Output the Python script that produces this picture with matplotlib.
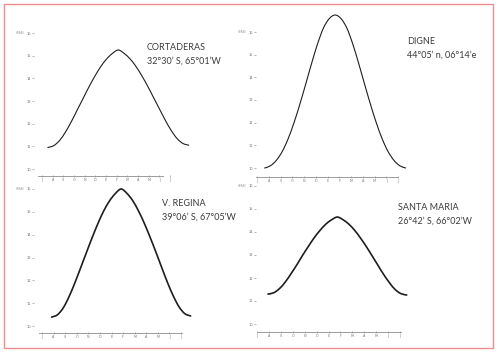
import matplotlib
matplotlib.use("Agg")
import matplotlib.pyplot as plt
from matplotlib.patches import Rectangle, PathPatch
from matplotlib.path import Path

# datos (x en meses, y en horas de luz)
x_cortaderas = [0.55, 1.10, 1.65, 2.20, 2.75, 3.30, 3.85, 4.40, 4.95, 5.50, 6.05, 6.60, 7.15,
                7.70, 8.25, 8.80, 9.35, 9.90, 10.45, 11.00, 11.55, 12.10, 12.65, 13.20, 13.75]
y_cortaderas = [10.95, 11.03, 11.26, 11.63, 12.09, 12.60, 13.11, 13.62, 14.09, 14.51, 14.85, 15.10, 15.25,
                15.10, 14.86, 14.53, 14.12, 13.66, 13.16, 12.66, 12.16, 11.71, 11.35, 11.13, 11.05]

x_digne = [0.65, 1.15, 1.65, 2.15, 2.65, 3.15, 3.65, 4.15, 4.65, 5.15, 5.65, 6.15, 6.65,
           7.15, 7.65, 8.15, 8.65, 9.15, 9.65, 10.15, 10.65, 11.15, 11.65, 12.15, 12.65]
y_digne = [10.00, 10.10, 10.34, 10.73, 11.29, 12.00, 12.82, 13.71, 14.62, 15.47, 16.17, 16.59, 16.75,
           16.59, 16.17, 15.47, 14.62, 13.71, 12.82, 12.00, 11.29, 10.73, 10.34, 10.10, 10.00]

x_regina = [0.83, 1.33, 1.83, 2.33, 2.83, 3.33, 3.83, 4.33, 4.83, 5.33, 5.83, 6.33, 6.83,
            7.33, 7.83, 8.33, 8.83, 9.33, 9.83, 10.33, 10.83, 11.33, 11.83, 12.33, 12.83]
y_regina = [10.39, 10.49, 10.79, 11.28, 11.88, 12.54, 13.21, 13.87, 14.49, 15.04, 15.48, 15.80, 16.00,
            15.81, 15.49, 15.04, 14.50, 13.89, 13.24, 12.57, 11.91, 11.32, 10.84, 10.54, 10.44]

x_santamaria = [0.92, 1.41, 1.89, 2.38, 2.86, 3.35, 3.83, 4.32, 4.80, 5.29, 5.77, 6.26, 6.74,
                7.23, 7.71, 8.20, 8.68, 9.17, 9.65, 10.14, 10.62, 11.11, 11.59, 12.08, 12.56]
y_santamaria = [11.30, 11.36, 11.54, 11.83, 12.19, 12.58, 12.99, 13.38, 13.75, 14.07, 14.34, 14.53, 14.65,
                14.53, 14.34, 14.07, 13.74, 13.37, 12.97, 12.56, 12.16, 11.80, 11.50, 11.32, 11.26]

y_ticks = [10, 11, 12, 13, 14, 15, 16]
x_ticks = list(range(13))
x_labels = ["J", "A", "S", "O", "N", "D", "E", "F", "M", "A", "M", "J", "J"]

titles = ["CORTADERAS", "DIGNE", "V. REGINA", "SANTA MARIA"]
coords = ["32°30’ S, 65°01’W", "44°05’ n, 06°14’e", "39°06’ S, 67°05’W", "26°42’ S, 66°02’W"]

W, H = 500, 354
fig = plt.figure(figsize=(W / 100, H / 100), dpi=100)
fig.patch.set_facecolor("white")

# borde rosado
fig.patches.append(Rectangle((4 / W, 1 - 348 / H), 489 / W, 344 / H, transform=fig.transFigure,
                             fill=False, edgecolor="#f28b8b", linewidth=1.0))


def smooth_path(xs, ys):
    # curva suave (bezier) que pasa por los puntos
    pts = list(zip(xs, ys))
    n = len(pts)
    verts = [pts[0]]
    codes = [Path.MOVETO]
    for i in range(n - 1):
        p0 = pts[max(i - 1, 0)]
        p1 = pts[i]
        p2 = pts[i + 1]
        p3 = pts[min(i + 2, n - 1)]
        c1 = (p1[0] + (p2[0] - p0[0]) / 6, p1[1] + (p2[1] - p0[1]) / 6)
        c2 = (p2[0] - (p3[0] - p1[0]) / 6, p2[1] - (p3[1] - p1[1]) / 6)
        verts += [c1, c2, p2]
        codes += [Path.CURVE4] * 3
    return Path(verts, codes)


def panel(xs, ys, box, x0, x12, y10, y16, xspan, lw, title, coord, tpos):
    left, right, top, bottom = box
    ax = fig.add_axes([left / W, 1 - bottom / H, (right - left) / W, (bottom - top) / H])
    dx = (x12 - x0) / 12
    dy = (y10 - y16) / 6
    ax.set_xlim((left - x0) / dx, (right - x0) / dx)
    ax.set_ylim(10 - (bottom - y10) / dy, 10 + (y10 - top) / dy)
    ax.add_patch(PathPatch(smooth_path(xs, ys), facecolor="none", edgecolor="#1e1e1e",
                           linewidth=lw, capstyle="round"))
    for s in ["top", "right", "left"]:
        ax.spines[s].set_visible(False)
    ax.spines["bottom"].set_color("#8c8c8c")
    ax.spines["bottom"].set_linewidth(0.6)
    ax.spines["bottom"].set_bounds(*xspan)
    ax.set_facecolor("none")
    ax.set_yticks(y_ticks)
    ax.set_yticklabels([str(v) for v in y_ticks])
    ax.set_xticks(x_ticks)
    ax.set_xticklabels(x_labels)
    ax.tick_params(axis="y", length=1.5, width=0.5, color="#999999", labelsize=2.6,
                   labelcolor="#777777", pad=0.8)
    ax.tick_params(axis="x", length=1.5, width=0.5, color="#999999", labelsize=2.4,
                   labelcolor="#777777", pad=0.8, direction="inout")
    # etiqueta de horas junto al tick superior
    ax.annotate("HORAS", xy=(0, 16), xycoords=ax.get_yaxis_transform(), xytext=(-7, 0),
                textcoords="offset points", fontsize=1.8, color="#999999",
                ha="right", va="center")
    tx, ty = tpos
    fig.text(tx / W, 1 - ty / H, title, fontsize=6.5, color="#3c3c3c",
             family="Lato", ha="left", va="center")
    fig.text(tx / W, 1 - (ty + 13) / H, coord, fontsize=6.5, color="#3c3c3c",
             family="Lato", ha="left", va="center")
    return ax


panel(x_cortaderas, y_cortaderas, (34, 200, 12, 176), 42, 170, 169, 33, (-0.4, 11.3), 0.8,
      titles[0], coords[0], (147, 48))
panel(x_digne, y_digne, (256, 420, 8, 177), 257, 398, 168, 32, (-0.1, 12), 0.8,
      titles[1], coords[1], (407, 42))
panel(x_regina, y_regina, (34, 200, 180, 333), 42, 181, 326, 189, (-0.3, 12.1), 1.2,
      titles[2], coords[2], (162, 204))
panel(x_santamaria, y_santamaria, (256, 420, 180, 332), 257, 400, 324, 186, (0, 12.1), 1.2,
      titles[3], coords[3], (398, 208))

fig.savefig("out.png", dpi=100)
plt.close(fig)
